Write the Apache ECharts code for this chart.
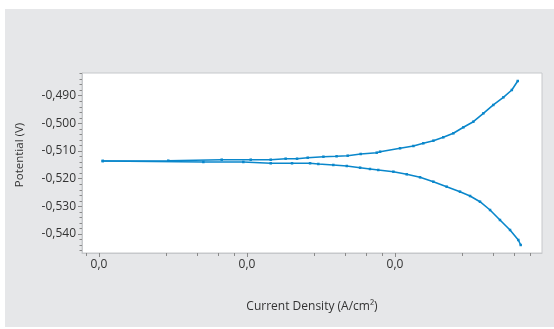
<!DOCTYPE html>
<html>
<head>
<meta charset="utf-8">
<script src="https://cdn.jsdelivr.net/npm/echarts@6/dist/echarts.min.js"></script>
<style>
html,body{margin:0;padding:0;background:#fff;}
#bg{position:absolute;left:5px;top:9px;width:549px;height:318px;background:#e6e7e9;}
#chart{position:absolute;left:0;top:0;width:554px;height:329px;}
</style>
</head>
<body>
<div id="bg"></div>
<div id="chart"></div>
<script>
// log10 of current density (decades) and potential (V)
const anodicLogI = [-8.975,-8.532,-8.171,-7.975,-7.840,-7.739,-7.662,-7.590,-7.484,-7.395,-7.320,-7.232,-7.124,-7.101,-6.966,-6.876,-6.809,-6.741,-6.674,-6.606,-6.538,-6.471,-6.403,-6.336,-6.268,-6.211,-6.171];
const anodicE    = [-0.51360,-0.51349,-0.51313,-0.51313,-0.51313,-0.51277,-0.51277,-0.51241,-0.51205,-0.51190,-0.51168,-0.51107,-0.51060,-0.51024,-0.50901,-0.50818,-0.50720,-0.50626,-0.50503,-0.50359,-0.50142,-0.49940,-0.49636,-0.49336,-0.49058,-0.48794,-0.48469];
const cathodicLogI = [-8.975,-8.295,-8.025,-7.840,-7.696,-7.574,-7.518,-7.417,-7.326,-7.236,-7.169,-7.113,-7.011,-6.921,-6.831,-6.741,-6.651,-6.561,-6.493,-6.426,-6.358,-6.291,-6.223,-6.167,-6.151];
const cathodicE    = [-0.51360,-0.51396,-0.51396,-0.51443,-0.51443,-0.51443,-0.51468,-0.51504,-0.51541,-0.51602,-0.51649,-0.51685,-0.51747,-0.51841,-0.51949,-0.52108,-0.52289,-0.52469,-0.52625,-0.52831,-0.53131,-0.53492,-0.53853,-0.54215,-0.54395];

const xMajorTicks = [-9,-8,-7];
const xMinorFractions = [0.453,0.665,0.808,0.914];
const xTickLabel = '0,0';
const yMajorTicks = [-0.54,-0.53,-0.52,-0.51,-0.50,-0.49];
const yMinorStep = 0.002;

const xMin = -9.115, xMax = -6.007;
const yMin = -0.54685, yMax = -0.48180;

const xMinorTicks = [];
[-10,-9,-8,-7].forEach(d => xMinorFractions.forEach(f => { const v = d + f; if (v > xMin && v < xMax) xMinorTicks.push(v); }));
const yMinorTicks = [];
for (let k = Math.ceil(yMin / yMinorStep); k * yMinorStep <= yMax; k++) yMinorTicks.push(+(k * yMinorStep).toFixed(4));

const fmtY = v => (v.toFixed(3)).replace('.', ',');
const font = '"Open Sans", "DejaVu Sans", sans-serif';
const txt = '#333333';
const tickCol = '#8a8a8a';
const blue = '#0a87cb';

const chart = echarts.init(document.getElementById('chart'), null, {renderer: 'canvas'});
chart.setOption({
  backgroundColor: 'transparent',
  animation: false,
  grid: {left: 82, right: 12, top: 73, bottom: 76, show: true, backgroundColor: '#ffffff', borderColor: '#c6c8cb', borderWidth: 1},
  xAxis: [
    {type: 'value', min: xMin, max: xMax, position: 'bottom',
     axisLine: {show: true, lineStyle: {color: '#c6c8cb'}},
     axisTick: {show: true, customValues: xMajorTicks, length: 4, lineStyle: {color: tickCol}},
     axisLabel: {customValues: xMajorTicks, formatter: () => xTickLabel, color: txt, fontSize: 12, fontFamily: font, margin: 6},
     splitLine: {show: false},
     name: 'Current Density (A/cm²)', nameLocation: 'middle', nameGap: 48,
     nameTextStyle: {color: txt, fontSize: 12, fontFamily: font}},
    {type: 'value', min: xMin, max: xMax, position: 'bottom',
     axisLine: {show: false},
     axisTick: {show: true, customValues: xMinorTicks, length: 3, lineStyle: {color: tickCol}},
     axisLabel: {show: false}, splitLine: {show: false}}
  ],
  yAxis: [
    {type: 'value', min: yMin, max: yMax, position: 'left',
     axisLine: {show: true, lineStyle: {color: '#c6c8cb'}},
     axisTick: {show: true, customValues: yMajorTicks, length: 4, lineStyle: {color: tickCol}},
     axisLabel: {customValues: yMajorTicks, formatter: fmtY, color: txt, fontSize: 12, fontFamily: font, margin: 6},
     splitLine: {show: false}},
    {type: 'value', min: yMin, max: yMax, position: 'left',
     axisLine: {show: false},
     axisTick: {show: true, customValues: yMinorTicks, length: 2.5, lineStyle: {color: tickCol}},
     axisLabel: {show: false}, splitLine: {show: false}}
  ],
  graphic: [{
    type: 'text', x: 20, y: 155, rotation: Math.PI / 2,
    style: {text: 'Potential (V)', fill: txt, fontSize: 11.5, fontFamily: font, textAlign: 'center', textVerticalAlign: 'middle'}
  }],
  series: [
    {type: 'line', xAxisIndex: 0, yAxisIndex: 0, data: anodicLogI.map((x, i) => [x, anodicE[i]]),
     symbol: 'rect', symbolSize: 2.5, showAllSymbol: true, itemStyle: {color: blue},
     lineStyle: {color: blue, width: 1.6}},
    {type: 'line', xAxisIndex: 0, yAxisIndex: 0, data: cathodicLogI.map((x, i) => [x, cathodicE[i]]),
     symbol: 'rect', symbolSize: 2.5, showAllSymbol: true, itemStyle: {color: blue},
     lineStyle: {color: blue, width: 1.6}}
  ]
});
</script>
</body>
</html>
